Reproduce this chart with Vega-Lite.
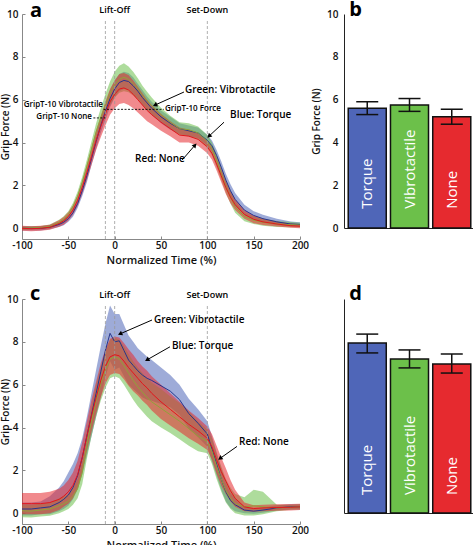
{
"$schema":"https://vega.github.io/schema/vega-lite/v6.json",
"padding":0,
"background":"white",
"config":{"view":{"stroke":null},"font":"Open Sans","axis":{"grid":false}},
"columns":2,
"bounds":"flush",
"spacing":{"row":60,"column":44},
"datasets":{
"curvesA":[
{"s":"Torque","t":-100,"m":0,"lo":-0.1,"hi":0.1},{"s":"Torque","t":-90,"m":0,"lo":-0.1,"hi":0.1},{"s":"Torque","t":-80,"m":0,"lo":-0.1,"hi":0.1},{"s":"Torque","t":-70,"m":0.05,"lo":-0.05,"hi":0.15},{"s":"Torque","t":-60,"m":0.18,"lo":0.06,"hi":0.3},{"s":"Torque","t":-55,"m":0.28,"lo":0.14,"hi":0.42},{"s":"Torque","t":-50,"m":0.45,"lo":0.3,"hi":0.6},{"s":"Torque","t":-45,"m":0.72,"lo":0.54,"hi":0.9},{"s":"Torque","t":-40,"m":1.15,"lo":0.95,"hi":1.35},{"s":"Torque","t":-35,"m":1.75,"lo":1.5,"hi":2.0},{"s":"Torque","t":-30,"m":2.45,"lo":2.15,"hi":2.75},{"s":"Torque","t":-25,"m":3.25,"lo":2.95,"hi":3.55},{"s":"Torque","t":-20,"m":4.05,"lo":3.7,"hi":4.4},{"s":"Torque","t":-15,"m":4.8,"lo":4.45,"hi":5.15},{"s":"Torque","t":-10,"m":5.45,"lo":5.05,"hi":5.85},{"s":"Torque","t":-5,"m":6.05,"lo":5.65,"hi":6.45},{"s":"Torque","t":0,"m":6.5,"lo":6.1,"hi":6.9},{"s":"Torque","t":5,"m":6.8,"lo":6.4,"hi":7.2},{"s":"Torque","t":10,"m":6.9,"lo":6.5,"hi":7.3},{"s":"Torque","t":15,"m":6.85,"lo":6.45,"hi":7.25},{"s":"Torque","t":20,"m":6.65,"lo":6.25,"hi":7.05},{"s":"Torque","t":25,"m":6.4,"lo":6.05,"hi":6.75},{"s":"Torque","t":30,"m":6.1,"lo":5.75,"hi":6.45},{"s":"Torque","t":35,"m":5.85,"lo":5.55,"hi":6.15},{"s":"Torque","t":40,"m":5.6,"lo":5.3,"hi":5.9},{"s":"Torque","t":50,"m":5.2,"lo":4.9,"hi":5.5},{"s":"Torque","t":60,"m":4.9,"lo":4.6,"hi":5.2},{"s":"Torque","t":70,"m":4.65,"lo":4.4,"hi":4.9},{"s":"Torque","t":80,"m":4.55,"lo":4.3,"hi":4.8},{"s":"Torque","t":90,"m":4.45,"lo":4.2,"hi":4.7},{"s":"Torque","t":100,"m":4.1,"lo":3.85,"hi":4.35},{"s":"Torque","t":105,"m":3.85,"lo":3.6,"hi":4.1},{"s":"Torque","t":110,"m":3.4,"lo":3.15,"hi":3.65},{"s":"Torque","t":115,"m":2.85,"lo":2.57,"hi":3.13},{"s":"Torque","t":120,"m":2.25,"lo":1.95,"hi":2.55},{"s":"Torque","t":125,"m":1.75,"lo":1.45,"hi":2.05},{"s":"Torque","t":130,"m":1.35,"lo":1.05,"hi":1.65},{"s":"Torque","t":140,"m":0.85,"lo":0.6,"hi":1.1},{"s":"Torque","t":150,"m":0.6,"lo":0.4,"hi":0.8},{"s":"Torque","t":160,"m":0.45,"lo":0.27,"hi":0.63},{"s":"Torque","t":175,"m":0.3,"lo":0.15,"hi":0.45},{"s":"Torque","t":190,"m":0.2,"lo":0.08,"hi":0.32},{"s":"Torque","t":200,"m":0.18,"lo":0.08,"hi":0.28},
{"s":"Vibrotactile","t":-100,"m":0,"lo":-0.08,"hi":0.08},{"s":"Vibrotactile","t":-90,"m":0.02,"lo":-0.06,"hi":0.1},{"s":"Vibrotactile","t":-80,"m":0.03,"lo":-0.05,"hi":0.11},{"s":"Vibrotactile","t":-70,"m":0.08,"lo":-0.02,"hi":0.18},{"s":"Vibrotactile","t":-60,"m":0.28,"lo":0.16,"hi":0.4},{"s":"Vibrotactile","t":-55,"m":0.42,"lo":0.28,"hi":0.56},{"s":"Vibrotactile","t":-50,"m":0.65,"lo":0.5,"hi":0.8},{"s":"Vibrotactile","t":-45,"m":1.0,"lo":0.82,"hi":1.18},{"s":"Vibrotactile","t":-40,"m":1.5,"lo":1.28,"hi":1.72},{"s":"Vibrotactile","t":-35,"m":2.15,"lo":1.9,"hi":2.4},{"s":"Vibrotactile","t":-30,"m":2.9,"lo":2.6,"hi":3.2},{"s":"Vibrotactile","t":-25,"m":3.7,"lo":3.35,"hi":4.05},{"s":"Vibrotactile","t":-20,"m":4.5,"lo":4.1,"hi":4.9},{"s":"Vibrotactile","t":-15,"m":5.15,"lo":4.7,"hi":5.6},{"s":"Vibrotactile","t":-10,"m":5.75,"lo":5.25,"hi":6.25},{"s":"Vibrotactile","t":-5,"m":6.3,"lo":5.75,"hi":6.85},{"s":"Vibrotactile","t":0,"m":6.7,"lo":6.1,"hi":7.3},{"s":"Vibrotactile","t":5,"m":6.95,"lo":6.32,"hi":7.58},{"s":"Vibrotactile","t":10,"m":7.05,"lo":6.4,"hi":7.7},{"s":"Vibrotactile","t":15,"m":6.95,"lo":6.35,"hi":7.55},{"s":"Vibrotactile","t":20,"m":6.75,"lo":6.2,"hi":7.3},{"s":"Vibrotactile","t":25,"m":6.5,"lo":6.0,"hi":7.0},{"s":"Vibrotactile","t":30,"m":6.2,"lo":5.75,"hi":6.65},{"s":"Vibrotactile","t":35,"m":5.95,"lo":5.53,"hi":6.37},{"s":"Vibrotactile","t":40,"m":5.7,"lo":5.3,"hi":6.1},{"s":"Vibrotactile","t":50,"m":5.3,"lo":4.98,"hi":5.62},{"s":"Vibrotactile","t":60,"m":4.95,"lo":4.65,"hi":5.25},{"s":"Vibrotactile","t":70,"m":4.65,"lo":4.35,"hi":4.95},{"s":"Vibrotactile","t":80,"m":4.6,"lo":4.3,"hi":4.9},{"s":"Vibrotactile","t":90,"m":4.45,"lo":4.15,"hi":4.75},{"s":"Vibrotactile","t":100,"m":4.05,"lo":3.75,"hi":4.35},{"s":"Vibrotactile","t":105,"m":3.7,"lo":3.4,"hi":4.0},{"s":"Vibrotactile","t":110,"m":3.15,"lo":2.85,"hi":3.45},{"s":"Vibrotactile","t":115,"m":2.55,"lo":2.25,"hi":2.85},{"s":"Vibrotactile","t":120,"m":1.95,"lo":1.65,"hi":2.25},{"s":"Vibrotactile","t":125,"m":1.45,"lo":1.15,"hi":1.75},{"s":"Vibrotactile","t":130,"m":1.0,"lo":0.72,"hi":1.28},{"s":"Vibrotactile","t":140,"m":0.55,"lo":0.33,"hi":0.77},{"s":"Vibrotactile","t":150,"m":0.38,"lo":0.2,"hi":0.56},{"s":"Vibrotactile","t":160,"m":0.28,"lo":0.12,"hi":0.44},{"s":"Vibrotactile","t":175,"m":0.2,"lo":0.06,"hi":0.34},{"s":"Vibrotactile","t":190,"m":0.17,"lo":0.05,"hi":0.29},{"s":"Vibrotactile","t":200,"m":0.15,"lo":0.04,"hi":0.26},
{"s":"None","t":-100,"m":0,"lo":-0.12,"hi":0.12},{"s":"None","t":-90,"m":-0.02,"lo":-0.14,"hi":0.1},{"s":"None","t":-80,"m":0,"lo":-0.12,"hi":0.12},{"s":"None","t":-70,"m":0.05,"lo":-0.07,"hi":0.17},{"s":"None","t":-60,"m":0.22,"lo":0.07,"hi":0.37},{"s":"None","t":-55,"m":0.35,"lo":0.17,"hi":0.53},{"s":"None","t":-50,"m":0.55,"lo":0.35,"hi":0.75},{"s":"None","t":-45,"m":0.85,"lo":0.63,"hi":1.07},{"s":"None","t":-40,"m":1.3,"lo":1.05,"hi":1.55},{"s":"None","t":-35,"m":1.9,"lo":1.6,"hi":2.2},{"s":"None","t":-30,"m":2.6,"lo":2.25,"hi":2.95},{"s":"None","t":-25,"m":3.35,"lo":2.95,"hi":3.75},{"s":"None","t":-20,"m":4.1,"lo":3.65,"hi":4.55},{"s":"None","t":-15,"m":4.75,"lo":4.25,"hi":5.25},{"s":"None","t":-10,"m":5.35,"lo":4.8,"hi":5.9},{"s":"None","t":-5,"m":5.9,"lo":5.3,"hi":6.5},{"s":"None","t":0,"m":6.25,"lo":5.6,"hi":6.9},{"s":"None","t":5,"m":6.5,"lo":5.8,"hi":7.2},{"s":"None","t":10,"m":6.55,"lo":5.85,"hi":7.25},{"s":"None","t":15,"m":6.45,"lo":5.75,"hi":7.15},{"s":"None","t":20,"m":6.25,"lo":5.6,"hi":6.9},{"s":"None","t":25,"m":6.0,"lo":5.4,"hi":6.6},{"s":"None","t":30,"m":5.75,"lo":5.2,"hi":6.3},{"s":"None","t":35,"m":5.5,"lo":5.0,"hi":6.0},{"s":"None","t":40,"m":5.3,"lo":4.85,"hi":5.75},{"s":"None","t":50,"m":4.95,"lo":4.55,"hi":5.35},{"s":"None","t":60,"m":4.65,"lo":4.3,"hi":5.0},{"s":"None","t":70,"m":4.35,"lo":4.0,"hi":4.7},{"s":"None","t":80,"m":4.3,"lo":4.0,"hi":4.6},{"s":"None","t":90,"m":4.15,"lo":3.85,"hi":4.45},{"s":"None","t":100,"m":3.8,"lo":3.5,"hi":4.1},{"s":"None","t":105,"m":3.5,"lo":3.2,"hi":3.8},{"s":"None","t":110,"m":3.0,"lo":2.7,"hi":3.3},{"s":"None","t":115,"m":2.45,"lo":2.15,"hi":2.75},{"s":"None","t":120,"m":1.9,"lo":1.6,"hi":2.2},{"s":"None","t":125,"m":1.45,"lo":1.17,"hi":1.73},{"s":"None","t":130,"m":1.1,"lo":0.85,"hi":1.35},{"s":"None","t":140,"m":0.65,"lo":0.45,"hi":0.85},{"s":"None","t":150,"m":0.42,"lo":0.24,"hi":0.6},{"s":"None","t":160,"m":0.3,"lo":0.15,"hi":0.45},{"s":"None","t":175,"m":0.2,"lo":0.08,"hi":0.32},{"s":"None","t":190,"m":0.12,"lo":0.02,"hi":0.22},{"s":"None","t":200,"m":0.1,"lo":0.0,"hi":0.2}
],
"curvesC":[
{"s":"Torque","t":-100,"m":0.2,"lo":-0.1,"hi":0.5},{"s":"Torque","t":-90,"m":0.2,"lo":-0.1,"hi":0.5},{"s":"Torque","t":-80,"m":0.25,"lo":-0.05,"hi":0.55},{"s":"Torque","t":-70,"m":0.3,"lo":-0.05,"hi":0.8},{"s":"Torque","t":-60,"m":0.5,"lo":0.1,"hi":1.2},{"s":"Torque","t":-55,"m":0.65,"lo":0.2,"hi":1.5},{"s":"Torque","t":-50,"m":0.85,"lo":0.35,"hi":1.9},{"s":"Torque","t":-45,"m":1.2,"lo":0.65,"hi":2.3},{"s":"Torque","t":-40,"m":1.75,"lo":1.1,"hi":2.8},{"s":"Torque","t":-35,"m":2.6,"lo":1.8,"hi":3.5},{"s":"Torque","t":-30,"m":3.6,"lo":2.7,"hi":4.5},{"s":"Torque","t":-25,"m":4.6,"lo":3.6,"hi":5.6},{"s":"Torque","t":-20,"m":5.6,"lo":4.5,"hi":6.7},{"s":"Torque","t":-15,"m":6.6,"lo":5.4,"hi":7.8},{"s":"Torque","t":-10,"m":7.6,"lo":6.35,"hi":8.85},{"s":"Torque","t":-5,"m":8.4,"lo":7.1,"hi":9.7},{"s":"Torque","t":0,"m":8.0,"lo":6.7,"hi":9.3},{"s":"Torque","t":5,"m":8.05,"lo":6.8,"hi":9.3},{"s":"Torque","t":10,"m":7.6,"lo":6.4,"hi":8.8},{"s":"Torque","t":15,"m":7.15,"lo":6.0,"hi":8.3},{"s":"Torque","t":20,"m":6.9,"lo":5.8,"hi":8.0},{"s":"Torque","t":25,"m":6.65,"lo":5.6,"hi":7.7},{"s":"Torque","t":30,"m":6.45,"lo":5.4,"hi":7.5},{"s":"Torque","t":35,"m":6.3,"lo":5.3,"hi":7.3},{"s":"Torque","t":40,"m":6.2,"lo":5.25,"hi":7.15},{"s":"Torque","t":50,"m":5.95,"lo":5.1,"hi":6.8},{"s":"Torque","t":60,"m":5.7,"lo":4.95,"hi":6.45},{"s":"Torque","t":70,"m":5.3,"lo":4.6,"hi":6.0},{"s":"Torque","t":80,"m":4.65,"lo":3.95,"hi":5.35},{"s":"Torque","t":90,"m":4.2,"lo":3.55,"hi":4.85},{"s":"Torque","t":100,"m":3.7,"lo":3.1,"hi":4.3},{"s":"Torque","t":105,"m":3.0,"lo":2.4,"hi":3.6},{"s":"Torque","t":110,"m":2.3,"lo":1.75,"hi":2.85},{"s":"Torque","t":115,"m":1.6,"lo":1.1,"hi":2.1},{"s":"Torque","t":120,"m":1.0,"lo":0.55,"hi":1.45},{"s":"Torque","t":125,"m":0.6,"lo":0.25,"hi":0.95},{"s":"Torque","t":130,"m":0.4,"lo":0.1,"hi":0.7},{"s":"Torque","t":140,"m":0.15,"lo":0.0,"hi":0.3},{"s":"Torque","t":150,"m":0.1,"lo":-0.02,"hi":0.22},{"s":"Torque","t":160,"m":0.15,"lo":0.03,"hi":0.27},{"s":"Torque","t":175,"m":0.25,"lo":0.13,"hi":0.37},{"s":"Torque","t":190,"m":0.3,"lo":0.18,"hi":0.42},{"s":"Torque","t":200,"m":0.3,"lo":0.18,"hi":0.42},
{"s":"Vibrotactile","t":-100,"m":0.12,"lo":-0.18,"hi":0.42},{"s":"Vibrotactile","t":-90,"m":0.1,"lo":-0.2,"hi":0.4},{"s":"Vibrotactile","t":-80,"m":0.15,"lo":-0.15,"hi":0.45},{"s":"Vibrotactile","t":-70,"m":0.2,"lo":-0.12,"hi":0.52},{"s":"Vibrotactile","t":-60,"m":0.35,"lo":0.0,"hi":0.7},{"s":"Vibrotactile","t":-55,"m":0.45,"lo":0.1,"hi":0.8},{"s":"Vibrotactile","t":-50,"m":0.55,"lo":0.2,"hi":0.9},{"s":"Vibrotactile","t":-45,"m":0.8,"lo":0.4,"hi":1.2},{"s":"Vibrotactile","t":-40,"m":1.15,"lo":0.7,"hi":1.6},{"s":"Vibrotactile","t":-35,"m":1.9,"lo":1.35,"hi":2.45},{"s":"Vibrotactile","t":-30,"m":3.2,"lo":2.55,"hi":3.85},{"s":"Vibrotactile","t":-25,"m":4.3,"lo":3.6,"hi":5.0},{"s":"Vibrotactile","t":-20,"m":5.25,"lo":4.5,"hi":6.0},{"s":"Vibrotactile","t":-15,"m":6.05,"lo":5.25,"hi":6.85},{"s":"Vibrotactile","t":-10,"m":6.7,"lo":5.85,"hi":7.55},{"s":"Vibrotactile","t":-5,"m":7.2,"lo":6.3,"hi":8.1},{"s":"Vibrotactile","t":0,"m":7.3,"lo":6.4,"hi":8.2},{"s":"Vibrotactile","t":5,"m":7.2,"lo":6.3,"hi":8.1},{"s":"Vibrotactile","t":10,"m":6.9,"lo":6.0,"hi":7.8},{"s":"Vibrotactile","t":15,"m":6.55,"lo":5.65,"hi":7.45},{"s":"Vibrotactile","t":20,"m":6.2,"lo":5.3,"hi":7.1},{"s":"Vibrotactile","t":25,"m":5.9,"lo":5.0,"hi":6.8},{"s":"Vibrotactile","t":30,"m":5.65,"lo":4.75,"hi":6.55},{"s":"Vibrotactile","t":35,"m":5.4,"lo":4.5,"hi":6.3},{"s":"Vibrotactile","t":40,"m":5.2,"lo":4.3,"hi":6.1},{"s":"Vibrotactile","t":50,"m":4.9,"lo":4.0,"hi":5.8},{"s":"Vibrotactile","t":60,"m":4.6,"lo":3.75,"hi":5.45},{"s":"Vibrotactile","t":70,"m":4.3,"lo":3.45,"hi":5.15},{"s":"Vibrotactile","t":80,"m":3.95,"lo":3.15,"hi":4.75},{"s":"Vibrotactile","t":90,"m":3.6,"lo":2.9,"hi":4.3},{"s":"Vibrotactile","t":100,"m":3.35,"lo":2.8,"hi":3.9},{"s":"Vibrotactile","t":105,"m":2.9,"lo":2.3,"hi":3.5},{"s":"Vibrotactile","t":110,"m":2.2,"lo":1.6,"hi":2.8},{"s":"Vibrotactile","t":115,"m":1.6,"lo":1.0,"hi":2.2},{"s":"Vibrotactile","t":120,"m":1.05,"lo":0.5,"hi":1.6},{"s":"Vibrotactile","t":125,"m":0.7,"lo":0.2,"hi":1.2},{"s":"Vibrotactile","t":130,"m":0.45,"lo":0.0,"hi":0.9},{"s":"Vibrotactile","t":140,"m":0.3,"lo":-0.1,"hi":0.75},{"s":"Vibrotactile","t":150,"m":0.35,"lo":-0.1,"hi":1.1},{"s":"Vibrotactile","t":160,"m":0.3,"lo":-0.05,"hi":1.0},{"s":"Vibrotactile","t":175,"m":0.25,"lo":0.1,"hi":0.4},{"s":"Vibrotactile","t":190,"m":0.28,"lo":0.16,"hi":0.4},{"s":"Vibrotactile","t":200,"m":0.3,"lo":0.18,"hi":0.42},
{"s":"None","t":-100,"m":0.45,"lo":-0.05,"hi":0.95},{"s":"None","t":-90,"m":0.45,"lo":-0.05,"hi":0.95},{"s":"None","t":-80,"m":0.45,"lo":-0.05,"hi":0.95},{"s":"None","t":-70,"m":0.5,"lo":0.0,"hi":1.0},{"s":"None","t":-60,"m":0.65,"lo":0.15,"hi":1.15},{"s":"None","t":-55,"m":0.8,"lo":0.3,"hi":1.3},{"s":"None","t":-50,"m":1.0,"lo":0.45,"hi":1.55},{"s":"None","t":-45,"m":1.3,"lo":0.7,"hi":1.9},{"s":"None","t":-40,"m":1.8,"lo":1.15,"hi":2.45},{"s":"None","t":-35,"m":2.6,"lo":1.9,"hi":3.3},{"s":"None","t":-30,"m":3.6,"lo":2.9,"hi":4.3},{"s":"None","t":-25,"m":4.55,"lo":3.8,"hi":5.3},{"s":"None","t":-20,"m":5.4,"lo":4.65,"hi":6.15},{"s":"None","t":-15,"m":6.2,"lo":5.4,"hi":7.0},{"s":"None","t":-10,"m":6.85,"lo":6.05,"hi":7.65},{"s":"None","t":-5,"m":7.3,"lo":6.45,"hi":8.15},{"s":"None","t":0,"m":7.4,"lo":6.55,"hi":8.25},{"s":"None","t":5,"m":7.35,"lo":6.5,"hi":8.2},{"s":"None","t":10,"m":7.1,"lo":6.25,"hi":7.95},{"s":"None","t":15,"m":6.8,"lo":5.95,"hi":7.65},{"s":"None","t":20,"m":6.55,"lo":5.7,"hi":7.4},{"s":"None","t":25,"m":6.3,"lo":5.5,"hi":7.1},{"s":"None","t":30,"m":6.05,"lo":5.25,"hi":6.85},{"s":"None","t":35,"m":5.85,"lo":5.05,"hi":6.65},{"s":"None","t":40,"m":5.6,"lo":4.8,"hi":6.4},{"s":"None","t":50,"m":5.2,"lo":4.4,"hi":6.0},{"s":"None","t":60,"m":4.85,"lo":4.1,"hi":5.6},{"s":"None","t":70,"m":4.5,"lo":3.8,"hi":5.2},{"s":"None","t":80,"m":4.15,"lo":3.5,"hi":4.8},{"s":"None","t":90,"m":3.85,"lo":3.25,"hi":4.45},{"s":"None","t":100,"m":3.5,"lo":2.95,"hi":4.05},{"s":"None","t":105,"m":3.1,"lo":2.5,"hi":3.7},{"s":"None","t":110,"m":2.5,"lo":1.85,"hi":3.15},{"s":"None","t":115,"m":1.95,"lo":1.3,"hi":2.6},{"s":"None","t":120,"m":1.5,"lo":0.9,"hi":2.1},{"s":"None","t":125,"m":1.05,"lo":0.55,"hi":1.55},{"s":"None","t":130,"m":0.7,"lo":0.3,"hi":1.1},{"s":"None","t":140,"m":0.3,"lo":0.1,"hi":0.5},{"s":"None","t":150,"m":0.22,"lo":0.07,"hi":0.37},{"s":"None","t":160,"m":0.25,"lo":0.1,"hi":0.4},{"s":"None","t":175,"m":0.27,"lo":0.12,"hi":0.42},{"s":"None","t":190,"m":0.28,"lo":0.13,"hi":0.43},{"s":"None","t":200,"m":0.3,"lo":0.15,"hi":0.45}
],
"barsB":[{"c":"Torque","m":5.6,"lo":5.3,"hi":5.9},{"c":"Vibrotactile","m":5.75,"lo":5.45,"hi":6.05},{"c":"None","m":5.2,"lo":4.85,"hi":5.55}],
"barsD":[{"c":"Torque","m":7.94,"lo":7.48,"hi":8.36},{"c":"Vibrotactile","m":7.2,"lo":6.78,"hi":7.62},{"c":"None","m":6.96,"lo":6.54,"hi":7.43}]
},
"concat":[
{
"width":278,"height":225,
"layer":[
{"data":{"name":"curvesA"},"mark":{"type":"area","fillOpacity":0.55},
 "encoding":{
  "x":{"field":"t","type":"quantitative","scale":{"domain":[-100,200],"nice":false},
   "axis":{"values":[-100,-75,-50,-25,0,25,50,75,100,125,150,175,200],"labelExpr":"datum.value % 50 === 0 ? '' + datum.value : ''","title":"Normalized Time (%)","titleFontSize":11,"titleFontWeight":600,"titleBaseline":"top","titleY":15,"titleColor":"#111","labelFontSize":10,"labelFontWeight":600,"labelColor":"#111","domainColor":"#888","tickColor":"#888","tickSize":-3,"labelPadding":4,"labelOverlap":false,"labelFlush":false}},
  "y":{"field":"lo","type":"quantitative","scale":{"domain":[-0.5,10],"nice":false},
   "axis":{"values":[0,2,4,6,8,10],"title":"Grip Force (N)","titleFontSize":10,"titleFontWeight":600,"titleColor":"#111","titlePadding":-4,"labelFontSize":10,"labelFontWeight":600,"labelColor":"#111","domainColor":"#888","tickColor":"#888","tickSize":-3,"labelPadding":7}},
  "y2":{"field":"hi"},
  "fill":{"field":"s","type":"nominal","scale":{"domain":["Torque","Vibrotactile","None"],"range":["#4f66b8","#6cc04a","#e62a2f"]},"legend":null}}},
{"data":{"name":"curvesA"},"mark":{"type":"line","strokeWidth":1},
 "encoding":{"x":{"field":"t","type":"quantitative"},"y":{"field":"m","type":"quantitative"},
  "stroke":{"field":"s","type":"nominal","scale":{"domain":["Torque","Vibrotactile","None"],"range":["#27358c","#8fa33a","#e3161c"]},"legend":null}}},
{"data":{"values":[{"t":-10},{"t":0},{"t":100}]},"mark":{"type":"rule","color":"#9a9a9a","strokeDash":[3,2],"strokeWidth":0.8},
 "encoding":{"x":{"field":"t","type":"quantitative"},"y":{"datum":-0.5},"y2":{"datum":9.75}}},
{"data":{"values":[{"t":-12,"t2":53,"v":5.55},{"t":-23,"t2":-10,"v":5.15}]},"mark":{"type":"rule","color":"#000","strokeDash":[2,1.5],"strokeWidth":0.9},
 "encoding":{"x":{"field":"t","type":"quantitative"},"x2":{"field":"t2"},"y":{"field":"v","type":"quantitative"}}},
{"data":{"values":[{"t":74.8,"v":6.36,"t2":43.5,"v2":5.75},{"t":118,"v":4.95,"t2":101.8,"v2":4.3},{"t":72.7,"v":3.18,"t2":86.7,"v2":3.88}]},"mark":{"type":"rule","color":"#000","strokeWidth":1},
 "encoding":{"x":{"field":"t","type":"quantitative"},"y":{"field":"v","type":"quantitative"},"x2":{"field":"t2"},"y2":{"field":"v2"}}},
{"data":{"values":[{"t":43.5,"v":5.75,"ang":246},{"t":101.8,"v":4.3,"ang":227},{"t":86.7,"v":3.88,"ang":41}]},"mark":{"type":"point","shape":"triangle-up","filled":true,"color":"#000","size":26,"opacity":1},
 "encoding":{"x":{"field":"t","type":"quantitative"},"y":{"field":"v","type":"quantitative"},"angle":{"field":"ang","type":"quantitative","scale":null}}},
{"data":{"values":[{"t":75.9,"v":6.45,"label":"Green: Vibrotactile"},{"t":124.5,"v":5.28,"label":"Blue: Torque"},{"t":22,"v":3.22,"label":"Red: None"}]},"mark":{"type":"text","align":"left","baseline":"middle","fontSize":10,"fontWeight":600,"color":"#000"},
 "encoding":{"x":{"field":"t","type":"quantitative"},"y":{"field":"v","type":"quantitative"},"text":{"field":"label"}}},
{"data":{"values":[{"t":-12.6,"v":5.75,"label":"GripT-10 Vibrotactile"},{"t":-24.5,"v":5.19,"label":"GripT-10 None"}]},"mark":{"type":"text","align":"right","baseline":"middle","fontSize":8,"fontWeight":600,"color":"#000"},
 "encoding":{"x":{"field":"t","type":"quantitative"},"y":{"field":"v","type":"quantitative"},"text":{"field":"label"}}},
{"data":{"values":[{"t":54.3,"v":5.56,"label":"GripT-10 Force"}]},"mark":{"type":"text","align":"left","baseline":"middle","fontSize":8,"fontWeight":600,"color":"#000"},
 "encoding":{"x":{"field":"t","type":"quantitative"},"y":{"field":"v","type":"quantitative"},"text":{"field":"label"}}},
{"data":{"values":[{"t":0,"v":10.2,"label":"Lift-Off"},{"t":100,"v":10.2,"label":"Set-Down"}]},"mark":{"type":"text","align":"center","baseline":"middle","fontSize":9,"fontWeight":600,"color":"#000"},
 "encoding":{"x":{"field":"t","type":"quantitative"},"y":{"field":"v","type":"quantitative"},"text":{"field":"label"}}},
{"data":{"values":[{"t":-91.4,"v":9.86,"label":"a"}]},"mark":{"type":"text","align":"left","baseline":"alphabetic","fontSize":20,"fontWeight":"bold","color":"#000"},
 "encoding":{"x":{"field":"t","type":"quantitative"},"y":{"field":"v","type":"quantitative"},"text":{"field":"label"}}}
]},
{
"width":131,"height":214,"data":{"name":"barsB"},
"layer":[
{"mark":{"type":"bar","stroke":"#111","strokeWidth":1.5},
 "encoding":{"x":{"field":"c","type":"nominal","scale":{"domain":["Torque","Vibrotactile","None"],"paddingInner":0.1,"paddingOuter":0.1},"axis":{"labels":false,"ticks":false,"title":null,"domainColor":"#222"}},
  "y":{"field":"m","type":"quantitative","scale":{"domain":[0,10],"nice":false},"axis":{"values":[0,2,4,6,8,10],"title":"Grip Force (N)","titleFontSize":10,"titleFontWeight":600,"titleColor":"#111","titlePadding":5,"labelFontSize":10,"labelFontWeight":600,"labelColor":"#111","ticks":false,"labelPadding":6,"domainColor":"#222"}},
  "fill":{"field":"c","type":"nominal","scale":{"domain":["Torque","Vibrotactile","None"],"range":["#2e4b9b","#5db946","#e9262b"]},"legend":null}}},
{"mark":{"type":"rule","color":"#111","strokeWidth":1.5},"encoding":{"x":{"field":"c","type":"nominal"},"y":{"field":"lo","type":"quantitative"},"y2":{"field":"hi"}}},
{"mark":{"type":"tick","color":"#111","thickness":1.5,"size":22,"opacity":1},"encoding":{"x":{"field":"c","type":"nominal"},"y":{"field":"lo","type":"quantitative"}}},
{"mark":{"type":"tick","color":"#111","thickness":1.5,"size":22,"opacity":1},"encoding":{"x":{"field":"c","type":"nominal"},"y":{"field":"hi","type":"quantitative"}}},
{"mark":{"type":"text","angle":270,"align":"left","baseline":"middle","color":"white","fontSize":15,"fontWeight":500},"encoding":{"x":{"field":"c","type":"nominal"},"y":{"datum":0.9},"text":{"field":"c"}}},
{"data":{"values":[{"c":"Torque","label":"b"}]},"mark":{"type":"text","align":"left","baseline":"alphabetic","dx":-18,"fontSize":20,"fontWeight":"bold","color":"#000"},"encoding":{"x":{"field":"c","type":"nominal"},"y":{"datum":9.9},"text":{"field":"label"}}}
]},
{
"width":278,"height":225,
"layer":[
{"data":{"name":"curvesC"},"mark":{"type":"area","fillOpacity":0.55},
 "encoding":{
  "x":{"field":"t","type":"quantitative","scale":{"domain":[-100,200],"nice":false},
   "axis":{"values":[-100,-75,-50,-25,0,25,50,75,100,125,150,175,200],"labelExpr":"datum.value % 50 === 0 ? '' + datum.value : ''","title":"Normalized Time (%)","titleFontSize":11,"titleFontWeight":600,"titleBaseline":"top","titleY":15,"titleColor":"#111","labelFontSize":10,"labelFontWeight":600,"labelColor":"#111","domainColor":"#888","tickColor":"#888","tickSize":-3,"labelPadding":4,"labelOverlap":false,"labelFlush":false}},
  "y":{"field":"lo","type":"quantitative","scale":{"domain":[-0.5,10],"nice":false},
   "axis":{"values":[0,2,4,6,8,10],"title":"Grip Force (N)","titleFontSize":10,"titleFontWeight":600,"titleColor":"#111","titlePadding":-4,"labelFontSize":10,"labelFontWeight":600,"labelColor":"#111","domainColor":"#888","tickColor":"#888","tickSize":-3,"labelPadding":7}},
  "y2":{"field":"hi"},
  "fill":{"field":"s","type":"nominal","scale":{"domain":["Torque","Vibrotactile","None"],"range":["#4f66b8","#6cc04a","#e62a2f"]},"legend":null}}},
{"data":{"name":"curvesC"},"mark":{"type":"line","strokeWidth":1},
 "encoding":{"x":{"field":"t","type":"quantitative"},"y":{"field":"m","type":"quantitative"},
  "stroke":{"field":"s","type":"nominal","scale":{"domain":["Torque","Vibrotactile","None"],"range":["#27358c","#8fa33a","#e3161c"]},"legend":null}}},
{"data":{"values":[{"t":-10},{"t":0},{"t":100}]},"mark":{"type":"rule","color":"#9a9a9a","strokeDash":[3,2],"strokeWidth":0.8},
 "encoding":{"x":{"field":"t","type":"quantitative"},"y":{"datum":-0.5},"y2":{"datum":9.75}}},
{"data":{"values":[{"t":40.3,"v":9.02,"t2":5.75,"v2":8.37},{"t":59.7,"v":7.77,"t2":34.9,"v2":7.16},{"t":132,"v":3.12,"t2":113.7,"v2":2.56}]},"mark":{"type":"rule","color":"#000","strokeWidth":1},
 "encoding":{"x":{"field":"t","type":"quantitative"},"y":{"field":"v","type":"quantitative"},"x2":{"field":"t2"},"y2":{"field":"v2"}}},
{"data":{"values":[{"t":5.75,"v":8.37,"ang":246},{"t":34.9,"v":7.16,"ang":241},{"t":113.7,"v":2.56,"ang":235}]},"mark":{"type":"point","shape":"triangle-up","filled":true,"color":"#000","size":26,"opacity":1},
 "encoding":{"x":{"field":"t","type":"quantitative"},"y":{"field":"v","type":"quantitative"},"angle":{"field":"ang","type":"quantitative","scale":null}}},
{"data":{"values":[{"t":42.4,"v":9.02,"label":"Green: Vibrotactile"},{"t":61.9,"v":7.8,"label":"Blue: Torque"},{"t":134.2,"v":3.35,"label":"Red: None"}]},"mark":{"type":"text","align":"left","baseline":"middle","fontSize":10,"fontWeight":600,"color":"#000"},
 "encoding":{"x":{"field":"t","type":"quantitative"},"y":{"field":"v","type":"quantitative"},"text":{"field":"label"}}},
{"data":{"values":[{"t":0,"v":10.19,"label":"Lift-Off"},{"t":100,"v":10.19,"label":"Set-Down"}]},"mark":{"type":"text","align":"center","baseline":"middle","fontSize":9,"fontWeight":600,"color":"#000"},
 "encoding":{"x":{"field":"t","type":"quantitative"},"y":{"field":"v","type":"quantitative"},"text":{"field":"label"}}},
{"data":{"values":[{"t":-91.4,"v":9.95,"label":"c"}]},"mark":{"type":"text","align":"left","baseline":"alphabetic","fontSize":20,"fontWeight":"bold","color":"#000"},
 "encoding":{"x":{"field":"t","type":"quantitative"},"y":{"field":"v","type":"quantitative"},"text":{"field":"label"}}}
]},
{
"width":131,"height":214,"data":{"name":"barsD"},
"layer":[
{"mark":{"type":"bar","stroke":"#111","strokeWidth":1.5},
 "encoding":{"x":{"field":"c","type":"nominal","scale":{"domain":["Torque","Vibrotactile","None"],"paddingInner":0.1,"paddingOuter":0.1},"axis":{"labels":false,"ticks":false,"title":null,"domainColor":"#222"}},
  "y":{"field":"m","type":"quantitative","scale":{"domain":[0,10],"nice":false},"axis":{"labels":false,"ticks":false,"title":null,"domainColor":"#222"}},
  "fill":{"field":"c","type":"nominal","scale":{"domain":["Torque","Vibrotactile","None"],"range":["#2e4b9b","#5db946","#e9262b"]},"legend":null}}},
{"mark":{"type":"rule","color":"#111","strokeWidth":1.5},"encoding":{"x":{"field":"c","type":"nominal"},"y":{"field":"lo","type":"quantitative"},"y2":{"field":"hi"}}},
{"mark":{"type":"tick","color":"#111","thickness":1.5,"size":22,"opacity":1},"encoding":{"x":{"field":"c","type":"nominal"},"y":{"field":"lo","type":"quantitative"}}},
{"mark":{"type":"tick","color":"#111","thickness":1.5,"size":22,"opacity":1},"encoding":{"x":{"field":"c","type":"nominal"},"y":{"field":"hi","type":"quantitative"}}},
{"mark":{"type":"text","angle":270,"align":"left","baseline":"middle","color":"white","fontSize":15,"fontWeight":500},"encoding":{"x":{"field":"c","type":"nominal"},"y":{"datum":0.84},"text":{"field":"c"}}},
{"data":{"values":[{"c":"Torque","label":"d"}]},"mark":{"type":"text","align":"left","baseline":"alphabetic","dx":-18,"fontSize":20,"fontWeight":"bold","color":"#000"},"encoding":{"x":{"field":"c","type":"nominal"},"y":{"datum":9.95},"text":{"field":"label"}}}
]}
]
}
